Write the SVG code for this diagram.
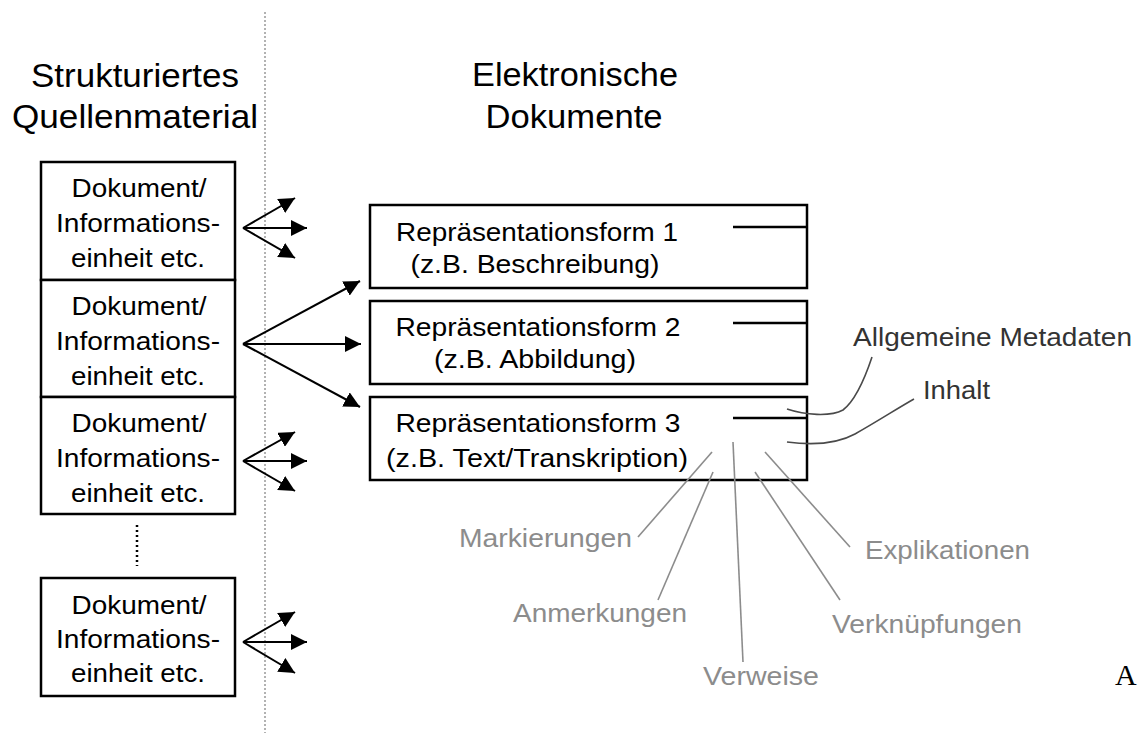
<svg xmlns="http://www.w3.org/2000/svg" width="1138" height="733" viewBox="0 0 1138 733">
<style>
text{font-family:"Liberation Sans",Arial,sans-serif;fill:#000}
.title{font-size:34px;text-anchor:middle}
.bt{font-size:26px;text-anchor:middle}
.box{fill:#fff;stroke:#000;stroke-width:2.5}
.arr{stroke:#000;stroke-width:2;fill:none;marker-end:url(#ah)}
.tick{stroke:#000;stroke-width:2.5}
.lead{stroke:#8c8c8c;stroke-width:1.6;fill:none}
.leadd{stroke:#4a4a4a;stroke-width:1.6;fill:none}
.gl{font-size:26px;fill:#8c8c8c}
.dl{font-size:26px;fill:#333}
</style>
<defs>
<marker id="ah" markerUnits="userSpaceOnUse" markerWidth="17" markerHeight="16" refX="16" refY="8" orient="auto">
<path d="M0,0 L16,8 L0,16 z" fill="#000"/>
</marker>
</defs>
<rect width="1138" height="733" fill="#fff"/>
<line x1="265" y1="12" x2="265" y2="733" stroke="#999" stroke-width="1.5" stroke-dasharray="2,2"/>
<g id="titles">
<text class="title" x="135" y="87" textLength="208" lengthAdjust="spacingAndGlyphs">Strukturiertes</text>
<text class="title" x="135" y="128" textLength="246" lengthAdjust="spacingAndGlyphs">Quellenmaterial</text>
<text class="title" x="575" y="86" textLength="206" lengthAdjust="spacingAndGlyphs">Elektronische</text>
<text class="title" x="574" y="128" textLength="177" lengthAdjust="spacingAndGlyphs">Dokumente</text>
</g>
<g id="src1">
<rect class="box" x="41" y="162" width="194" height="118"/>
<text class="bt" x="139" y="197" textLength="135" lengthAdjust="spacingAndGlyphs">Dokument/</text>
<text class="bt" x="138" y="232" textLength="164" lengthAdjust="spacingAndGlyphs">Informations-</text>
<text class="bt" x="138" y="267" textLength="134" lengthAdjust="spacingAndGlyphs">einheit etc.</text>
</g>
<g id="src2">
<rect class="box" x="41" y="280" width="194" height="117"/>
<text class="bt" x="139" y="315" textLength="135" lengthAdjust="spacingAndGlyphs">Dokument/</text>
<text class="bt" x="138" y="350" textLength="164" lengthAdjust="spacingAndGlyphs">Informations-</text>
<text class="bt" x="138" y="385" textLength="134" lengthAdjust="spacingAndGlyphs">einheit etc.</text>
</g>
<g id="src3">
<rect class="box" x="41" y="397" width="194" height="117"/>
<text class="bt" x="139" y="432" textLength="135" lengthAdjust="spacingAndGlyphs">Dokument/</text>
<text class="bt" x="138" y="467" textLength="164" lengthAdjust="spacingAndGlyphs">Informations-</text>
<text class="bt" x="138" y="502" textLength="134" lengthAdjust="spacingAndGlyphs">einheit etc.</text>
</g>
<g id="ellipsis">
<line x1="137" y1="525" x2="137" y2="566" stroke="#000" stroke-width="2.5" stroke-dasharray="2,3"/>
</g>
<g id="src4">
<rect class="box" x="41" y="578" width="194" height="118"/>
<text class="bt" x="139" y="614" textLength="135" lengthAdjust="spacingAndGlyphs">Dokument/</text>
<text class="bt" x="138" y="648" textLength="164" lengthAdjust="spacingAndGlyphs">Informations-</text>
<text class="bt" x="138" y="682" textLength="134" lengthAdjust="spacingAndGlyphs">einheit etc.</text>
</g>
<g id="rep1">
<rect class="box" x="370" y="205" width="437" height="83"/>
<text class="bt" x="537" y="241" textLength="282" lengthAdjust="spacingAndGlyphs">Repräsentationsform 1</text>
<text class="bt" x="535" y="273" textLength="249" lengthAdjust="spacingAndGlyphs">(z.B. Beschreibung)</text>
<line class="tick" x1="733" y1="227" x2="807" y2="227"/>
</g>
<g id="rep2">
<rect class="box" x="370" y="301" width="437" height="83"/>
<text class="bt" x="538" y="336" textLength="285" lengthAdjust="spacingAndGlyphs">Repräsentationsform 2</text>
<text class="bt" x="535" y="368" textLength="202" lengthAdjust="spacingAndGlyphs">(z.B. Abbildung)</text>
<line class="tick" x1="733" y1="323" x2="807" y2="323"/>
</g>
<g id="rep3">
<rect class="box" x="370" y="397" width="437" height="83"/>
<text class="bt" x="538" y="432" textLength="285" lengthAdjust="spacingAndGlyphs">Repräsentationsform 3</text>
<text class="bt" x="537" y="467" textLength="302" lengthAdjust="spacingAndGlyphs">(z.B. Text/Transkription)</text>
<line class="tick" x1="733" y1="418" x2="807" y2="418"/>
</g>
<g id="connectors">
<line class="arr" x1="243" y1="228" x2="295" y2="198"/>
<line class="arr" x1="243" y1="228" x2="307" y2="228"/>
<line class="arr" x1="243" y1="228" x2="295" y2="258"/>
<line class="arr" x1="243" y1="344" x2="360" y2="281"/>
<line class="arr" x1="243" y1="344" x2="361" y2="344"/>
<line class="arr" x1="243" y1="344" x2="360" y2="407"/>
<line class="arr" x1="243" y1="461" x2="295" y2="432"/>
<line class="arr" x1="243" y1="461" x2="307" y2="461"/>
<line class="arr" x1="243" y1="461" x2="295" y2="491"/>
<line class="arr" x1="243" y1="642" x2="295" y2="612"/>
<line class="arr" x1="243" y1="642" x2="307" y2="642"/>
<line class="arr" x1="243" y1="642" x2="295" y2="673"/>
<path class="leadd" d="M787,409 C805,415 830,417 843,410 C856,400 865,378 872,357"/>
<path class="leadd" d="M787,442 C810,445 835,445 855,434 C878,421 898,408 914,399"/>
<line class="lead" x1="712" y1="452" x2="638" y2="537"/>
<line class="lead" x1="713" y1="472" x2="658" y2="600"/>
<line class="lead" x1="733" y1="442" x2="743" y2="662"/>
<line class="lead" x1="755" y1="472" x2="840" y2="600"/>
<line class="lead" x1="765" y1="452" x2="850" y2="547"/>
</g>
<g id="labels">
<text class="dl" x="853" y="346" textLength="279" lengthAdjust="spacingAndGlyphs">Allgemeine Metadaten</text>
<text class="dl" x="923" y="399" textLength="67" lengthAdjust="spacingAndGlyphs">Inhalt</text>
<text class="gl" x="459" y="547" textLength="173" lengthAdjust="spacingAndGlyphs">Markierungen</text>
<text class="gl" x="513" y="622" textLength="174" lengthAdjust="spacingAndGlyphs">Anmerkungen</text>
<text class="gl" x="703" y="685" textLength="116" lengthAdjust="spacingAndGlyphs">Verweise</text>
<text class="gl" x="865" y="559" textLength="165" lengthAdjust="spacingAndGlyphs">Explikationen</text>
<text class="gl" x="832" y="633" textLength="190" lengthAdjust="spacingAndGlyphs">Verknüpfungen</text>
<text x="1115" y="685" style="font-family:'Liberation Serif','Times New Roman',serif;font-size:30px">A</text>
</g>
</svg>
